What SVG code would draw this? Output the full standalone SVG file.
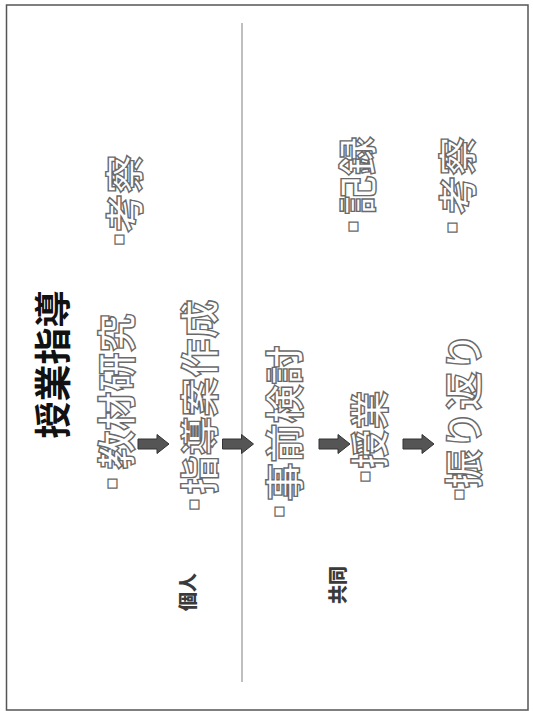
<svg xmlns="http://www.w3.org/2000/svg" width="533" height="711" viewBox="0 0 533 711">
<style>
.lbl{font-family:"Noto Sans CJK JP","Noto Sans CJK SC",sans-serif;font-size:39px;font-weight:700;fill:#fff;stroke:#6a6a6a;stroke-width:1.4px;dominant-baseline:central}
.bul{font-family:"DejaVu Sans",sans-serif;font-size:18px;fill:#fff;stroke:#6a6a6a;stroke-width:1.2px;dominant-baseline:central;text-anchor:middle}
.title{font-family:"Noto Sans CJK JP","Noto Sans CJK SC",sans-serif;font-size:37px;font-weight:700;fill:#111;dominant-baseline:central}
.grp{font-family:"Noto Sans CJK JP","Noto Sans CJK SC",sans-serif;font-size:19px;font-weight:900;fill:#3a3a3a;dominant-baseline:central}
.arr{fill:#555;stroke:#333;stroke-width:1}
</style>
<defs>
<path id="arrow" class="arr" d="M0,-5 H19 V-9.5 L31,0 L19,9.5 V5 H0 Z"/>
</defs>
<rect width="533" height="711" fill="#fff"/>
<rect id="frame" x="6.5" y="5" width="521.5" height="705" fill="none" stroke="#555" stroke-width="1.5"/>
<line id="divider" x1="242" y1="23" x2="242" y2="682" stroke="#aaa" stroke-width="1.5"/>

<g id="title" transform="translate(51,438.5) rotate(-90)"><text class="title" x="0" y="0">授業指導</text></g>

<g id="kousatsu1" transform="translate(121.5,232.5) rotate(-90)"><text class="bul" x="-7.5" y="-4">▪</text><text class="lbl" x="0" y="0">考察</text></g>
<g id="kyozai" transform="translate(114,469.5) rotate(-90)"><text class="bul" x="-14.5" y="-4">▪</text><text class="lbl" x="0" y="0">教材研究</text></g>
<g id="shidouan" transform="translate(196.5,494.5) rotate(-90)"><text class="bul" x="-10.5" y="-4">▪</text><text class="lbl" x="0" y="0">指導案作成</text></g>
<g id="jizen" transform="translate(281.5,501.5) rotate(-90)"><text class="bul" x="-10.5" y="-4">▪</text><text class="lbl" x="0" y="0">事前検討</text></g>
<g id="jugyou" transform="translate(367,468.5) rotate(-90)"><text class="bul" x="-8.5" y="-4">▪</text><text class="lbl" x="0" y="0">授業</text></g>
<g id="furikaeri" transform="translate(461,488.5) rotate(-90)"><text class="bul" x="-6.5" y="-4">▪</text><text class="lbl" x="0" y="0">振り返り</text></g>
<g id="kiroku" transform="translate(355,214.5) rotate(-90)"><text class="bul" x="-12.5" y="-4">▪</text><text class="lbl" x="0" y="0">記録</text></g>
<g id="kousatsu2" transform="translate(454.5,214.5) rotate(-90)"><text class="bul" x="-13.5" y="-4">▪</text><text class="lbl" x="0" y="0">考察</text></g>

<g id="kojin" transform="translate(186,611) rotate(-90)"><text class="grp" x="0" y="0">個人</text></g>
<g id="kyoudou" transform="translate(336,604) rotate(-90)"><text class="grp" x="0" y="0">共同</text></g>

<g id="connectors">
<use href="#arrow" x="138" y="444"/>
<use href="#arrow" x="222.5" y="444"/>
<use href="#arrow" x="319" y="444"/>
<use href="#arrow" x="403" y="444"/>
</g>
</svg>
